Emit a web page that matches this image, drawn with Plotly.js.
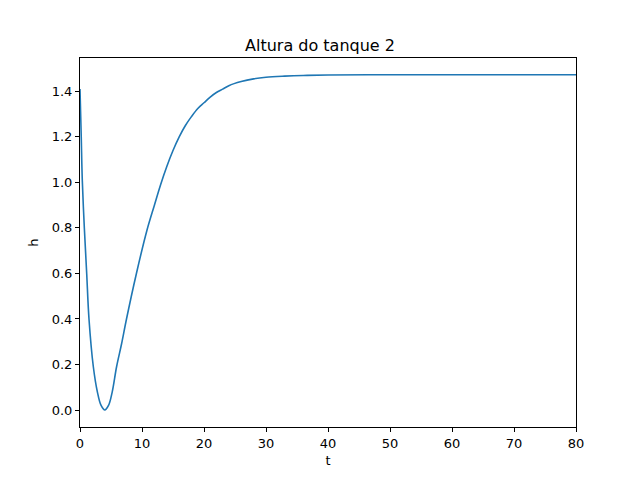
<!DOCTYPE html>
<html>
<head>
<meta charset="utf-8">
<script src="https://cdn.plot.ly/plotly-3.0.1.min.js"></script>
<style>body{margin:0;background:#fff}</style>
</head>
<body>
<div id="chart" style="width:640px;height:480px"></div>
<script>
// values
var tValues = [0, 0.2, 0.37, 0.7, 1.08, 1.45, 2.15, 2.8, 3.4, 4, 4.6, 5.2, 5.9, 6.7, 7.5, 9.1, 10.8, 12, 13, 14, 15, 16, 17, 18, 19, 20, 21, 22, 23, 24, 26, 28, 30, 33, 36, 40, 50, 60, 80]
var hValues = [1.41, 1.2, 1.01, 0.8, 0.6, 0.4, 0.19, 0.08, 0.02, 0.0, 0.02, 0.08, 0.19, 0.29, 0.4, 0.6, 0.79, 0.9, 0.99, 1.07, 1.14, 1.2, 1.25, 1.29, 1.325, 1.35, 1.375, 1.395, 1.41, 1.425, 1.443, 1.455, 1.462, 1.467, 1.47, 1.472, 1.473, 1.473, 1.473]
var xTicks = [0, 10, 20, 30, 40, 50, 60, 70, 80]
var yTicks = [0.0, 0.2, 0.4, 0.6, 0.8, 1.0, 1.2, 1.4]

var axisStyle = {
  showgrid: false,
  zeroline: false,
  showline: true,
  mirror: true,
  linecolor: '#000',
  linewidth: 1,
  ticks: 'outside',
  ticklen: 4,
  tickcolor: '#000',
  tickfont: { size: 13, color: '#000' }
}

var layout = {
  width: 640,
  height: 480,
  font: { family: 'DejaVu Sans', color: '#000' },
  title: { text: 'Altura do tanque 2', font: { size: 16 }, x: 0.5, xanchor: 'center', yref: 'paper', y: 1, yanchor: 'bottom', pad: { b: 7 } },
  paper_bgcolor: '#fff',
  plot_bgcolor: '#fff',
  showlegend: false,
  margin: { l: 80, r: 64, t: 58, b: 53 },
  xaxis: Object.assign({}, axisStyle, {
    range: [0, 80], tickvals: xTicks, ticktext: xTicks.map(String),
    title: { text: 't', font: { size: 13 }, standoff: 6 }
  }),
  yaxis: Object.assign({}, axisStyle, {
    range: [-0.0746, 1.5466], tickvals: yTicks, ticktext: yTicks.map(function (v) { return v.toFixed(1) }),
    title: { text: 'h', font: { size: 13 }, standoff: 10 }
  })
}

Plotly.newPlot('chart', [{
  x: tValues,
  y: hValues,
  type: 'scatter',
  mode: 'lines',
  line: { color: '#1f77b4', width: 1.6, shape: 'spline', smoothing: 1 }
}], layout, { displayModeBar: false })
</script>
</body>
</html>
